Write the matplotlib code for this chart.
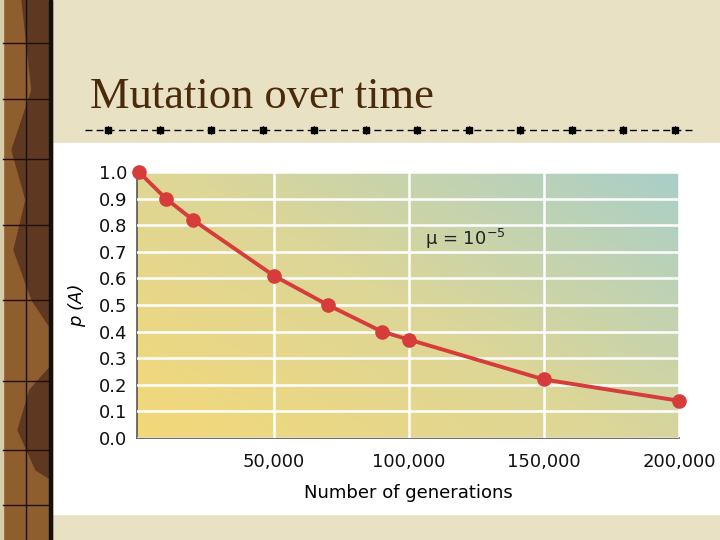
import numpy as np
import matplotlib.pyplot as plt
from matplotlib.patches import Rectangle, Polygon
from matplotlib.colors import LinearSegmentedColormap

# data
generations = [0, 10000, 20000, 50000, 70000, 90000, 100000, 150000, 200000]
p_A = [1.0, 0.90, 0.82, 0.61, 0.50, 0.40, 0.37, 0.22, 0.14]
x_ticks = [50000, 100000, 150000, 200000]
x_ticklabels = ['50,000', '100,000', '150,000', '200,000']
y_ticks = [0.0, 0.1, 0.2, 0.3, 0.4, 0.5, 0.6, 0.7, 0.8, 0.9, 1.0]

plt.rcParams['mathtext.fontset'] = 'dejavusans'

W, H = 720, 540
fig = plt.figure(figsize=(7.2, 5.4), dpi=100)
fig.patch.set_facecolor('#e8e1c3')

# slide decoration, drawn in pixel coords
deco = fig.add_axes([0, 0, 1, 1], zorder=0)
deco.set_xlim(0, W)
deco.set_ylim(H, 0)
deco.axis('off')

# brown strip on the left
deco.add_patch(Rectangle((0, 0), 52, H, color='#8e5e2e', zorder=1))
deco.add_patch(Polygon([[22, 0], [52, 0], [52, 330], [32, 300], [14, 250], [26, 200], [12, 150], [32, 90]],
                       color='#5e3820', zorder=2))
deco.add_patch(Polygon([[30, 390], [52, 365], [52, 480], [36, 470], [18, 430]],
                       color='#5e3820', zorder=2))
deco.add_patch(Rectangle((0, 0), 3, H, color='#d8ccaa', zorder=3))
deco.plot([26, 26], [0, H], color='#1e1008', lw=1, zorder=4)
for yy in [43, 99, 159, 225, 300, 381, 450, 505]:
    deco.plot([3, 50], [yy, yy], color='#1e1008', lw=1, zorder=4)
deco.add_patch(Rectangle((49, 0), 3, H, color='#111111', zorder=4))

# title
fig.text(90 / W, 1 - 108 / H, 'Mutation over time', fontsize=32,
         family='Liberation Serif', color='#4a2a0a', va='baseline')

# dashed rule with square markers
deco.plot([85, 695], [130, 130], color='black', lw=1, linestyle=(0, (5, 3)), zorder=5)
mx = np.linspace(108, 675, 12)
deco.plot(mx, [130] * len(mx), 's', color='black', ms=4, zorder=6)
for m in mx:
    deco.plot([m, m], [126, 134], color='black', lw=0.6, zorder=6)

# white panel behind the chart
deco.add_patch(Rectangle((54, 143), W - 54, 514 - 143, color='white', zorder=5))

# chart
ax = fig.add_axes([137 / W, 1 - 438 / H, (679 - 137) / W, (438 - 172) / H], zorder=2)
ax.set_xlim(-700, 200000)
ax.set_ylim(0, 1.0)

cmap = LinearSegmentedColormap.from_list('bg', ['#f4d878', '#dcd698', '#a9cfc9'])
gx, gy = np.meshgrid(np.linspace(0, 1, 200), np.linspace(0, 1, 200))
grad = (gx * 0.55 + gy * 0.45)
ax.imshow(grad, cmap=cmap, extent=[-700, 200000, 0, 1.0], origin='lower',
          aspect='auto', zorder=0)

ax.grid(True, color='white', lw=1.8, zorder=1)
ax.set_axisbelow(False)

ax.plot(generations, p_A, color='#d63c3a', lw=2.8, marker='o', ms=9.5,
        clip_on=False, zorder=5)

ax.text(106000, 0.75, 'μ = 10$^{-5}$', fontsize=13, family='DejaVu Sans',
        va='center', color='#222222')

ax.set_xticks(x_ticks)
ax.set_xticklabels(x_ticklabels)
ax.set_yticks(y_ticks)
ax.set_yticklabels([f'{v:.1f}' for v in y_ticks])
ax.tick_params(length=0, labelsize=13, colors='#111111')
ax.tick_params(axis='x', pad=11)
ax.tick_params(axis='y', pad=7)
for lab in ax.get_xticklabels() + ax.get_yticklabels():
    lab.set_family('DejaVu Sans')

for s in ['top', 'right']:
    ax.spines[s].set_visible(False)
for s in ['left', 'bottom']:
    ax.spines[s].set_color('#5a5548')
    ax.spines[s].set_linewidth(1.2)

ax.set_xlabel('Number of generations', fontsize=13, family='DejaVu Sans', labelpad=9)
ax.set_ylabel('p (A)', fontsize=13, family='DejaVu Sans', style='italic', labelpad=9)

fig.savefig('out.png', dpi=100)
